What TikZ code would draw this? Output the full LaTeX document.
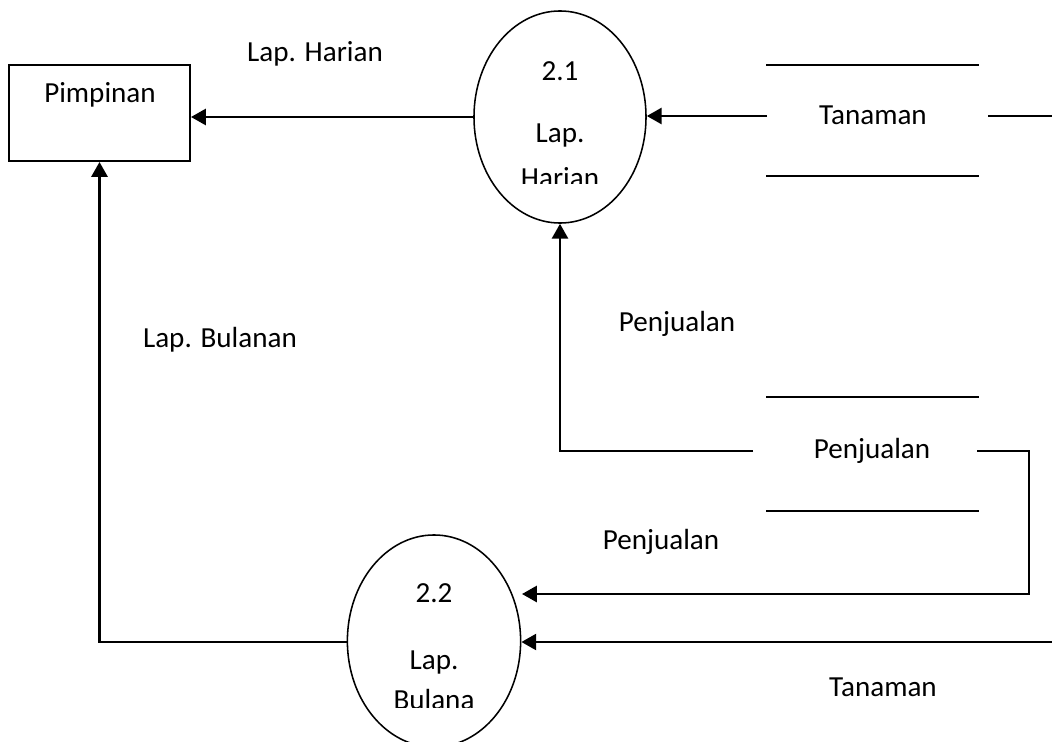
\documentclass[tikz,border=0pt]{standalone}
\usepackage{fontspec}
\setmainfont{Carlito}
\usepackage{tikz}
\usetikzlibrary{
  arrows.meta,
  positioning,
  shapes.geometric
}
\tikzset{>={Triangle[length=0.37cm,width=0.4cm]}}
\tikzset{
  entity/.style={draw,line width=1.4pt,minimum width=4.525cm,minimum height=2.4cm,inner sep=0pt},
  proc/.style={draw,ellipse,line width=1.1pt,minimum width=4.3cm,minimum height=5.3cm,inner sep=0pt},
  flow/.style={->,line width=1.8pt},
  storeline/.style={line width=1.4pt},
  txt/.style={inner sep=0pt}
}

\begin{document}
\begin{tikzpicture}[x=0.025cm,y=-0.025cm,font=\fontsize{20.7}{25}\selectfont]
\useasboundingbox (0,0) rectangle (1052,742);
		% entity and processes
			\node[entity] (pimpinan) at (99.5,113) {};
			\node[txt] (tpim) at (100,95) {Pimpinan};
			\node[proc] (p21) at (560,117) {};
			\node[proc,minimum width=4.33cm] (p22) at (434,641) {};
			\node[txt] (n21) at (560,71) {2.1};
			\node[txt] (l21) at (560,136) {Lap.};
			\begin{scope}
			\clip (470,0) rectangle (650,183);
			\node[txt] (h21) at (560,178) {Harian};
			\end{scope}
			\node[txt] (n22) at (434,593) {2.2};
			\node[txt] (l22) at (434,662) {Lap.};
			\begin{scope}
			\clip (340,540) rectangle (530,707);
			\node[txt] (b22) at (434,699) {Bulana};
			\end{scope}
		% data stores
			\draw[storeline] (766,65)--(979,65) (766,176)--(979,176);
			\node[txt] (tanaman) at (873,115) {Tanaman};
			\draw[storeline] (766,397)--(979,397) (766,511)--(979,511);
			\node[txt] (penjualan) at (872,451) {Penjualan};
			\coordinate (tanL) at (767,116);
			\coordinate (tanR) at (988,116);
			\coordinate (tanEnd) at (1052,116);
			\coordinate (penL) at (753,451);
			\coordinate (penR) at (977,451);
			\coordinate (jog) at (1029,451);
			\coordinate (pin2) at (522,594);
			\coordinate (tanIn) at (1052,642);
		% flows
			\draw[flow] (p21.west) -- (p21.west -| pimpinan.east);
			\draw[flow] (tanL) -- (tanL -| p21.east);
			\draw[storeline] (tanR) -- (tanEnd);
			\draw[flow] (penL) -| (p21.south);
			\draw[flow] (penR) -- (jog) |- (pin2);
			\draw[flow] (tanIn) -- (tanIn -| p22.east);
			\draw[flow] (p22.west |- tanIn) -| (pimpinan.south);
		% flow labels
			\node[txt] (fharian) at (315,54) {Lap. Harian};
			\node[txt] (fbulanan) at (220,340) {Lap. Bulanan};
			\node[txt] (fpen1) at (677,324) {Penjualan};
			\node[txt] (fpen2) at (661,542) {Penjualan};
			\node[txt] (ftan) at (883,687) {Tanaman};
\end{tikzpicture}
\end{document}
